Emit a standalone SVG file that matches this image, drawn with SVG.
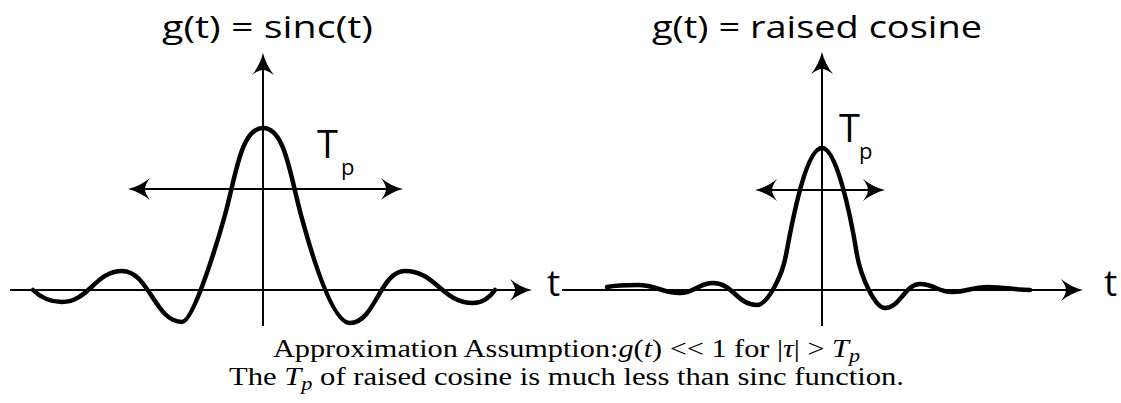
<svg xmlns="http://www.w3.org/2000/svg" width="1121" height="403" viewBox="0 0 1121 403">
  <style>
    .axis { stroke: #000; stroke-width: 2; fill: none; }
    .curve { stroke: #000; stroke-width: 4.5; fill: none; stroke-linecap: round; stroke-linejoin: round; }
    .title { font-family: "Open Sans", "DejaVu Sans", sans-serif; font-size: 31px; fill: #000; }
    .lbl { font-family: "Open Sans", "DejaVu Sans", sans-serif; fill: #000; }
    .cap { font-family: "Liberation Serif", "DejaVu Serif", serif; font-size: 26px; fill: #000; }
    .it { font-style: italic; }
  </style>
  <defs>
    <marker id="ah" viewBox="-26 -12 30 24" refX="-4" refY="0" markerWidth="30" markerHeight="24" markerUnits="userSpaceOnUse" orient="auto-start-reverse" overflow="visible">
      <path d="M0,0 C-8,2 -16,6 -22,11 C-19,7 -17,3 -17,0 C-17,-3 -19,-7 -22,-11 C-16,-6 -8,-2 0,0 Z" fill="#000"/>
    </marker>
  </defs>

  <g id="connectors">
    <line class="axis" x1="10" y1="290" x2="528" y2="290" marker-end="url(#ah)"/>
    <line class="axis" x1="263" y1="326" x2="263" y2="57" marker-end="url(#ah)"/>
    <line class="axis" x1="132" y1="189" x2="399" y2="189" marker-start="url(#ah)" marker-end="url(#ah)"/>
    <line class="axis" x1="562" y1="290" x2="1079" y2="290" marker-end="url(#ah)"/>
    <line class="axis" x1="822" y1="326" x2="822" y2="56" marker-end="url(#ah)"/>
    <line class="axis" x1="759" y1="190" x2="881" y2="190" marker-start="url(#ah)" marker-end="url(#ah)"/>
  </g>

  <g id="plot-sinc">
    <text class="title" x="162" y="38" textLength="211" lengthAdjust="spacingAndGlyphs">g(t) = sinc(t)</text>
    <path class="curve" d="M33,290 C40,297 50,302 62,302 C89,302 95,271 122,271 C149,271 155,322 182,322 C194,322 220,233 225,215 C236,175 241,128 263,128 C285,128 290,175 301,215 C307,237 330,323 350,323 C375,323 380,271 405,271 C436,271 442,303 473,303 C483,303 490,297 495,290"/>
    <text class="lbl" x="317" y="158" font-size="38">T</text>
    <text class="lbl" x="341" y="175" font-size="22">p</text>
    <text class="lbl" x="547" y="296" font-size="37">t</text>
  </g>

  <g id="plot-raised-cosine">
    <text class="title" x="652" y="38" textLength="330" lengthAdjust="spacingAndGlyphs">g(t) = raised cosine</text>
    <path class="curve" d="M607,287 C617,285 628,285 638,285 C657,285 661,293 680,293 C695,293 698,283 713,283 C733,283 737,305 757,305 C767,305 782,277 786,255 C794,211 807,148 822,148 C836,148 850,211 857,255 C861,277 875,308 885,308 C900,308 905,284 920,284 C934,284 938,292 952,292 C968,292 971,287 987,287 C1005,287 1015,290 1030,290"/>
    <text class="lbl" x="839" y="142" font-size="38">T</text>
    <text class="lbl" x="859" y="159" font-size="22">p</text>
    <text class="lbl" x="1104" y="296" font-size="37">t</text>
  </g>

  <g id="caption">
    <text class="cap" x="273" y="357" textLength="587" lengthAdjust="spacingAndGlyphs">Approximation Assumption:<tspan class="it">g</tspan>(<tspan class="it">t</tspan>) &lt;&lt; 1 for |<tspan class="it">τ</tspan>| &gt; <tspan class="it">T</tspan><tspan class="it" font-size="19" dy="5">p</tspan></text>
    <text class="cap" x="229" y="385" textLength="675" lengthAdjust="spacingAndGlyphs">The <tspan class="it">T</tspan><tspan class="it" font-size="19" dy="5">p</tspan><tspan dy="-5"> of raised cosine is much less than sinc function.</tspan></text>
  </g>
</svg>
